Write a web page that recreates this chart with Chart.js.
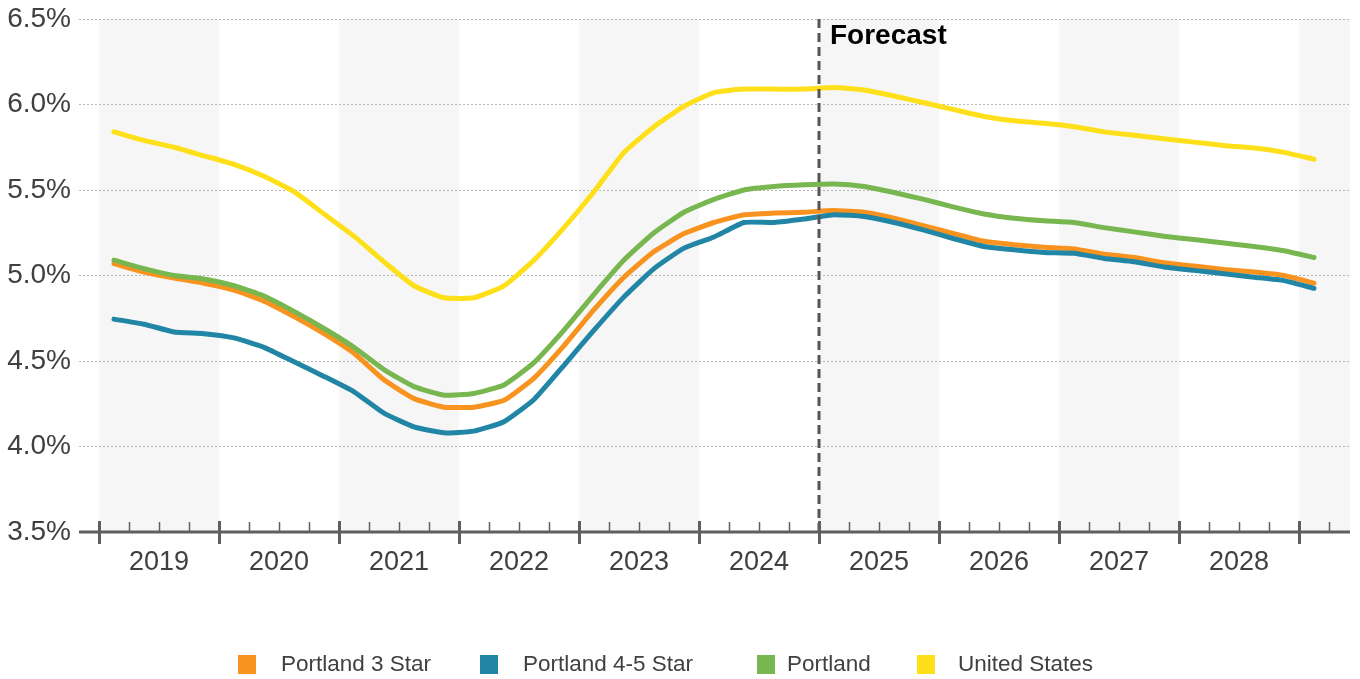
<!DOCTYPE html>
<html>
<head>
<meta charset="utf-8">
<script src="https://cdn.jsdelivr.net/npm/chart.js@4.4.0/dist/chart.umd.min.js"></script>
<style>
  html, body { margin: 0; padding: 0; background: #fff; }
  #wrap { position: relative; width: 1360px; height: 679px; }
  #chart { position: absolute; left: 0; top: 0; }
  #legend { position: absolute; left: 0; top: 0; width: 1360px; height: 679px; pointer-events: none;
            font-family: "Liberation Sans", Arial, sans-serif; font-size: 22.5px; color: #404040; }
  .sw { position: absolute; top: 655px; width: 18px; height: 19px; }
  .lbl { position: absolute; top: 651px; line-height: 26px; white-space: nowrap; }
</style>
</head>
<body>
<div id="wrap">
  <canvas id="chart" width="1360" height="679"></canvas>
  <div id="legend"></div>
</div>
<script>
// ── Rent growth forecast: Portland vs US ──
// Quarterly points, 2019 Q1 through 2029 Q1. Shaded bands mark alternate years.

const years = ['2019', '2020', '2021', '2022', '2023', '2024', '2025', '2026', '2027', '2028'];
const forecastStartYear = '2025';

const seriesNames = ['Portland 3 Star', 'Portland 4-5 Star', 'Portland', 'United States'];
const seriesColors = ['#f7931e', '#2186a5', '#78b650', '#fde01a'];

const portland3Star = [
  5.07, 5.02, 4.985, 4.955, 4.915, 4.85, 4.76, 4.66, 4.545, 4.39, 4.28,
  4.23, 4.23, 4.27, 4.40, 4.59, 4.80, 4.99, 5.14, 5.245, 5.31, 5.355,
  5.365, 5.37, 5.38, 5.37, 5.335, 5.29, 5.245, 5.20, 5.18, 5.165,
  5.155, 5.125, 5.105, 5.075, 5.055, 5.035, 5.02, 5.0, 4.955
];
const portland45Star = [
  4.745, 4.715, 4.67, 4.66, 4.635, 4.58, 4.495, 4.41, 4.32, 4.195, 4.115,
  4.08, 4.09, 4.145, 4.275, 4.475, 4.68, 4.875, 5.04, 5.16, 5.225, 5.31,
  5.31, 5.33, 5.355, 5.345, 5.31, 5.265, 5.215, 5.17, 5.15, 5.135,
  5.13, 5.10, 5.08, 5.05, 5.03, 5.01, 4.99, 4.97, 4.925
];
const portlandAll = [
  5.09, 5.04, 5.00, 4.98, 4.94, 4.88, 4.79, 4.69, 4.58, 4.45, 4.35,
  4.30, 4.31, 4.36, 4.49, 4.68, 4.89, 5.09, 5.25, 5.37, 5.445, 5.50,
  5.52, 5.53, 5.535, 5.52, 5.485, 5.445, 5.40, 5.36, 5.335, 5.32,
  5.31, 5.28, 5.255, 5.23, 5.21, 5.19, 5.17, 5.145, 5.105
];
const unitedStates = [
  5.84, 5.79, 5.75, 5.70, 5.65, 5.58, 5.49, 5.36, 5.23, 5.08, 4.94,
  4.87, 4.87, 4.94, 5.09, 5.28, 5.49, 5.72, 5.87, 5.99, 6.07, 6.09,
  6.09, 6.09, 6.10, 6.085, 6.05, 6.01, 5.97, 5.93, 5.905, 5.89,
  5.87, 5.84, 5.82, 5.80, 5.78, 5.76, 5.745, 5.72, 5.68
];
const seriesValues = [portland3Star, portland45Star, portlandAll, unitedStates];

const yTicks = [3.5, 4.0, 4.5, 5.0, 5.5, 6.0, 6.5];

const FONT = '"Liberation Sans", Arial, sans-serif';
const TEXT = '#404040';
const AXIS = '#5f5f5f';

// x is measured in quarters from the start of 2019; a point sits mid-quarter
const toPoints = vals => vals.map((v, i) => ({ x: i + 0.5, y: v }));

// alternating year bands behind everything
const bandsPlugin = {
  id: 'bands',
  beforeDraw(chart) {
    const { ctx, chartArea: a, scales: { x } } = chart;
    ctx.save();
    ctx.fillStyle = '#f6f6f6';
    for (let i = 0; i <= years.length; i += 2) {
      const l = Math.max(a.left, x.getPixelForValue(i * 4));
      const r = Math.min(a.right, x.getPixelForValue(i * 4 + 4));
      if (r > l) ctx.fillRect(l, a.top, r - l, a.bottom - a.top);
    }
    ctx.restore();
  }
};

// axis line with long year ticks and short quarter ticks
const axisPlugin = {
  id: 'quarterAxis',
  afterDraw(chart) {
    const { ctx, chartArea: a, scales: { x } } = chart;
    const y0 = a.bottom;
    ctx.save();
    ctx.strokeStyle = AXIS;
    ctx.lineWidth = 3;
    ctx.beginPath();
    ctx.moveTo(a.left, y0);
    ctx.lineTo(a.right, y0);
    ctx.stroke();
    const last = Math.floor(x.max);
    for (let q = 0; q <= last; q++) {
      const px = Math.round(x.getPixelForValue(q)) + 0.5;
      ctx.beginPath();
      if (q % 4 === 0) {
        ctx.lineWidth = 3;
        ctx.moveTo(px, y0 - 11);
        ctx.lineTo(px, y0 + 12);
      } else {
        ctx.lineWidth = 1.5;
        ctx.moveTo(px, y0 - 10);
        ctx.lineTo(px, y0);
      }
      ctx.stroke();
    }
    ctx.restore();
  }
};

// dashed divider + "Forecast" label
const forecastPlugin = {
  id: 'forecast',
  afterDatasetsDraw(chart) {
    const { ctx, chartArea: a, scales: { x } } = chart;
    const px = x.getPixelForValue(years.indexOf(forecastStartYear) * 4);
    ctx.save();
    ctx.strokeStyle = '#555555';
    ctx.lineWidth = 3;
    ctx.setLineDash([9, 5]);
    ctx.beginPath();
    ctx.moveTo(px, a.top);
    ctx.lineTo(px, a.bottom);
    ctx.stroke();
    ctx.setLineDash([]);
    ctx.fillStyle = '#000';
    ctx.font = 'bold 28px ' + FONT;
    ctx.textBaseline = 'alphabetic';
    ctx.fillText('Forecast', px + 11, a.top + 25);
    ctx.restore();
  }
};

const datasets = seriesNames.map((name, i) => ({
  label: name,
  data: toPoints(seriesValues[i]),
  borderColor: seriesColors[i],
  backgroundColor: seriesColors[i],
  borderWidth: 5,
  pointRadius: 0,
  tension: 0.15,
  borderCapStyle: 'round',
  borderJoinStyle: 'round',
  order: seriesNames.length - i
}));

new Chart(document.getElementById('chart'), {
  type: 'line',
  data: { datasets },
  options: {
    responsive: false,
    animation: false,
    layout: { padding: { top: 19, right: 10, bottom: 87, left: 0 } },
    plugins: { legend: { display: false }, tooltip: { enabled: false } },
    scales: {
      x: {
        type: 'linear',
        min: -2 / 3,
        max: 41.7,
        grid: { display: false },
        border: { display: false },
        afterBuildTicks: s => { s.ticks = years.map((_, i) => ({ value: i * 4 + 2 })); },
        afterFit: s => { s.height = 60; s.paddingLeft = 0; s.paddingRight = 0; },
        ticks: {
          autoSkip: false, maxRotation: 0, padding: 6,
          color: TEXT, font: { family: FONT, size: 27 },
          callback: v => years[(v - 2) / 4]
        }
      },
      y: {
        min: 3.5,
        max: 6.5,
        afterBuildTicks: s => { s.ticks = yTicks.map(v => ({ value: v })); },
        afterFit: s => { s.width = 79; s.paddingTop = 0; s.paddingBottom = 0; },
        grid: { color: '#b8b8b8', lineWidth: 1, drawTicks: false },
        border: { display: false, dash: [2, 2] },
        ticks: {
          padding: 8, color: TEXT, font: { family: FONT, size: 28 },
          callback: v => v.toFixed(1) + '%'
        }
      }
    }
  },
  plugins: [bandsPlugin, axisPlugin, forecastPlugin]
});

// legend row under the chart
const swatchLeft = [238, 480, 757, 917];
const labelLeft = [281, 523, 787, 958];
const legendEl = document.getElementById('legend');
seriesNames.forEach((name, i) => {
  const sw = document.createElement('span');
  sw.className = 'sw';
  sw.style.left = swatchLeft[i] + 'px';
  sw.style.background = seriesColors[i];
  const lbl = document.createElement('span');
  lbl.className = 'lbl';
  lbl.style.left = labelLeft[i] + 'px';
  lbl.textContent = name;
  legendEl.appendChild(sw);
  legendEl.appendChild(lbl);
});
</script>
</body>
</html>
